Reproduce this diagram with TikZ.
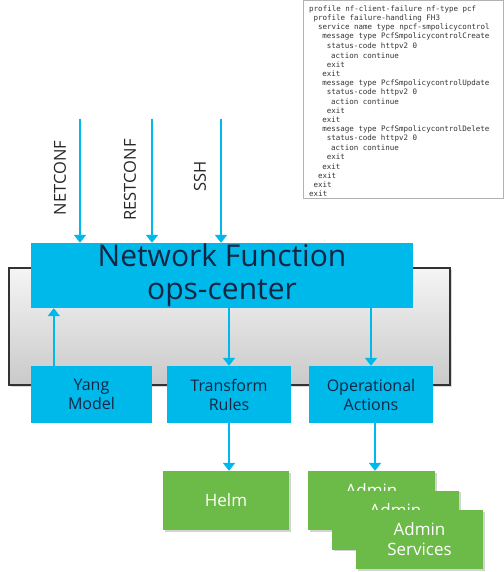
\documentclass[tikz,border=0pt]{standalone}
\usepackage{fontspec}
\setmainfont{Open Sans}
\setmonofont{DejaVu Sans Mono}
\usetikzlibrary{arrows.meta, shadows, positioning}
\definecolor{nfblue}{RGB}{0,185,235}
\definecolor{nfgreen}{RGB}{108,186,72}
\definecolor{nfnavy}{RGB}{20,38,68}

\tikzset{
  blk/.style={fill=nfblue, text=nfnavy, inner sep=0pt, align=center,
    font=\fontsize{16}{19}\selectfont},
  grn/.style={fill=nfgreen, text=white, inner sep=0pt, align=center,
    minimum width=127pt, minimum height=59pt,
    drop shadow={opacity=.35, shadow xshift=1.5pt, shadow yshift=-1.5pt},
    font=\fontsize{17}{20}\selectfont},
  link/.style={draw=nfblue, line width=2pt, -{Triangle[width=12pt,length=8pt]}},
  proto/.style={rotate=90, text=black!85, font=\fontsize{16.5}{20}\selectfont},
  cli/.style={anchor=west, inner sep=0pt, text=black!80,
    font=\fontsize{7.5}{9}\ttfamily},
}

\begin{document}
\begin{tikzpicture}[x=1pt, y=-1pt]
    \useasboundingbox (0,0) rectangle (503,572);

    % CLI listing
    \node[draw=gray!60, line width=.6pt, anchor=north west, inner sep=0pt,
        minimum width=200pt, minimum height=198pt] (listing) at (303,0) {};
    \foreach \ind/\txt [count=\i] in {
        0/profile nf-client-failure nf-type pcf,
        1/profile failure-handling FH3,
        2/service name type npcf-smpolicycontrol,
        3/message type PcfSmpolicycontrolCreate,
        4/status-code httpv2 0,
        5/action continue,
        4/exit,
        3/exit,
        3/message type PcfSmpolicycontrolUpdate,
        4/status-code httpv2 0,
        5/action continue,
        4/exit,
        3/exit,
        3/message type PcfSmpolicycontrolDelete,
        4/status-code httpv2 0,
        5/action continue,
        4/exit,
        3/exit,
        2/exit,
        1/exit,
        0/exit}
        \node[cli] (line\i) at (309+4.4*\ind, 9+9.25*\i-9.25) {\txt};

    % container
    \node[draw=black!80, line width=1.2pt, top color=gray!8, bottom color=gray!42,
        minimum width=441pt, minimum height=117pt, inner sep=0pt,
        drop shadow={opacity=.3, shadow xshift=1.5pt, shadow yshift=-1.5pt}]
        (frame) at (229.5,326.5) {};

    % ops-center
    \node[blk, minimum width=382pt, minimum height=65pt,
        font=\fontsize{30}{33}\selectfont] (nf) at (222,275.5)
        {Network Function\\ops-center};

    \node[blk, minimum width=121pt, minimum height=57pt] (yang) at (91.5,394.5) {Yang\\Model};
    \node[blk, minimum width=124pt, minimum height=57pt] (rules) at (229,394.5) {Transform\\Rules};
    \node[blk, minimum width=124pt, minimum height=57pt] (ops) at (371,394.5) {Operational\\Actions};

    \node[grn, minimum width=126pt] (helm) at (226,500.5) {Helm};
    \node[grn] (admin1) at (371.5,500.5) {Admin\\Services};
    \node[grn] (admin2) at (395.5,520) {Admin\\Services};
    \node[grn] (admin3) at (419.5,539.5) {Admin\\Services};

    % northbound interfaces
    \coordinate (netconf) at (80,119);
    \coordinate (restconf) at (152,119);
    \coordinate (ssh) at (221,119);
    \draw[link] (netconf) -- (netconf |- nf.north);
    \draw[link] (restconf) -- (restconf |- nf.north);
    \draw[link] (ssh) -- (ssh |- nf.north);
    \node[proto] (netconflbl) at (60,178) {NETCONF};
    \node[proto] (restconflbl) at (130,180) {RESTCONF};
    \node[proto] (sshlbl) at (200,176) {SSH};

    \draw[link] ([xshift=23pt]yang.north west) -- ([xshift=23pt]nf.south west);
    \draw[link] (nf.south -| rules.north) -- (rules.north);
    \draw[link] (nf.south -| ops.north) -- (ops.north);
    \draw[link] (rules.south) -- (rules.south |- helm.north);
    \draw[link] ([xshift=4pt]ops.south) -- ([xshift=4pt]ops.south |- admin1.north);

\end{tikzpicture}
\end{document}
